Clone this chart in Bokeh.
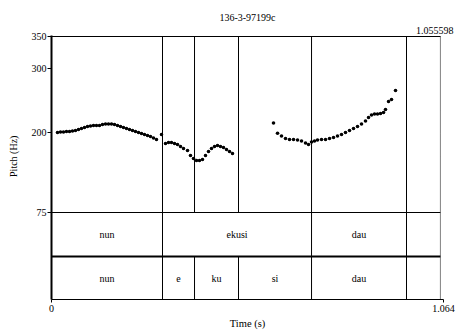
import math
from bokeh.plotting import figure
from bokeh.models import Range1d, FixedTicker, Title, ColumnDataSource
from bokeh.core.properties import value
from bokeh.embed import file_html
from bokeh.resources import INLINE

# ---------------- data ----------------
title_text = "136-3-97199c"
x_label = "Time (s)"
y_label = "Pitch (Hz)"
t_start = 0.0
t_end = 1.064
t_mark = 1.055598
mark_label = "1.055598"
x_ticks = [0.0, 1.064]
x_tick_labels = {0.0: "0", 1.064: "1.064"}
y_ticks = [75, 200, 300, 350]
f_min, f_max = 75, 350

pitch_t = [
    0.0163, 0.0244, 0.0326, 0.0407, 0.0489, 0.0570, 0.0651, 0.0733, 0.0814, 0.0896,
    0.0977, 0.1059, 0.1140, 0.1221, 0.1303, 0.1384, 0.1466, 0.1547, 0.1629, 0.1710,
    0.1792, 0.1873, 0.1954, 0.2036, 0.2117, 0.2199, 0.2280, 0.2362, 0.2443, 0.2524,
    0.2606, 0.2687, 0.2769, 0.2850, 0.2986,
    0.3094, 0.3176, 0.3257, 0.3339, 0.3420, 0.3502, 0.3583, 0.3692, 0.3773, 0.3854,
    0.3936, 0.4017, 0.4099, 0.4180, 0.4262, 0.4343, 0.4425, 0.4506, 0.4587, 0.4669,
    0.4750, 0.4832, 0.4913,
    0.6026, 0.6135, 0.6243, 0.6352, 0.6460, 0.6569, 0.6678, 0.6786, 0.6895, 0.6976,
    0.7058, 0.7139, 0.7220, 0.7329, 0.7438, 0.7546, 0.7655, 0.7763, 0.7872, 0.7980,
    0.8089, 0.8198, 0.8306, 0.8415, 0.8523, 0.8605, 0.8686, 0.8768, 0.8849, 0.8931,
    0.9012, 0.9066, 0.9148, 0.9229, 0.9338,
]
pitch_hz = [
    200.0, 200.8, 200.8, 201.6, 201.6, 202.3, 203.1, 204.7, 206.3, 207.8,
    209.4, 210.2, 210.9, 210.9, 210.9, 212.5, 213.3, 213.3, 213.3, 212.5,
    210.9, 209.4, 207.8, 206.3, 204.7, 203.1, 201.6, 200.0, 198.4, 196.9,
    195.3, 193.8, 191.4, 189.1, 196.9,
    182.8, 184.4, 184.4, 182.8, 181.3, 178.1, 175.0, 171.9, 164.1, 159.4,
    156.3, 156.3, 157.8, 164.1, 170.3, 175.0, 178.1, 179.7, 178.1, 176.6,
    173.4, 170.3, 167.2,
    214.8, 198.9, 194.5, 190.6, 189.1, 189.1, 188.3, 186.7, 183.6, 181.3,
    185.2, 186.7, 188.3, 189.1, 189.1, 190.6, 192.2, 194.5, 196.9, 200.0,
    203.1, 206.3, 209.4, 213.3, 218.0, 223.4, 227.3, 228.9, 228.9, 229.7,
    231.3, 235.9, 248.4, 251.6, 265.6,
]

word_bounds = [0.3013, 0.7058, 0.9636]
word_labels = ["nun", "ekusi", "dau", ""]
syll_bounds = [0.3013, 0.3882, 0.5076, 0.7058, 0.9636]
syll_labels = ["nun", "e", "ku", "si", "dau", ""]

# ---------------- layout ----------------
FONT = "Liberation Serif"
W, H = 456, 332
FRAME_L, FRAME_W = 51, 392
PITCH_H = 176
TIER_H = [44, 43]
PAD_TOP = 1
FRAME_TOP = 36 - PAD_TOP
hz_per_px = (f_max - f_min) / PITCH_H
tier1_bottom = f_min - TIER_H[0] * hz_per_px
y_start = tier1_bottom - TIER_H[1] * hz_per_px
y_end = f_max + PAD_TOP * hz_per_px
frame_h = PITCH_H + sum(TIER_H) + PAD_TOP
border_bottom = H - FRAME_TOP - frame_h
Y_LABEL_SHIFT = "\u00a0" * 9   # nudges the rotated axis title upward

p = figure(width=W, height=H, output_backend="svg", toolbar_location=None,
           x_range=Range1d(t_start, t_end), y_range=Range1d(y_start, y_end),
           min_border_left=FRAME_L, min_border_right=W - FRAME_L - FRAME_W,
           min_border_top=FRAME_TOP, min_border_bottom=border_bottom)
p.outline_line_color = None
p.grid.visible = False
p.background_fill_color = "white"
p.border_fill_color = "white"

# axes
yax = p.yaxis[0]
yax.ticker = FixedTicker(ticks=y_ticks)
yax.axis_line_width = 2
yax.axis_line_color = "black"
yax.major_tick_line_color = "black"
yax.major_tick_out = 4
yax.major_tick_in = 0
yax.minor_tick_line_color = None
yax.major_label_text_font = FONT
yax.major_label_text_font_size = "10px"
yax.major_label_text_color = "black"
yax.major_label_standoff = 1
yax.axis_label = Y_LABEL_SHIFT + y_label
yax.axis_label_text_font = FONT
yax.axis_label_text_font_size = "10px"
yax.axis_label_text_font_style = "normal"
yax.axis_label_text_color = "black"
yax.axis_label_standoff = 10

xax = p.xaxis[0]
xax.ticker = FixedTicker(ticks=x_ticks)
xax.major_label_overrides = x_tick_labels
xax.axis_line_color = "black"
xax.axis_line_width = 1
xax.major_tick_line_color = "black"
xax.major_tick_out = 3
xax.major_tick_in = 0
xax.minor_tick_line_color = None
xax.major_label_text_font = FONT
xax.major_label_text_font_size = "10px"
xax.major_label_text_color = "black"
xax.major_label_standoff = 2
xax.axis_label = x_label
xax.axis_label_text_font = FONT
xax.axis_label_text_font_size = "10.5px"
xax.axis_label_text_font_style = "normal"
xax.axis_label_text_color = "black"
xax.axis_label_standoff = 3

# titles (first added sits closest to the frame)
p.add_layout(Title(text=mark_label, align="right", offset=-10, standoff=3,
                   text_font=FONT, text_font_size="10px", text_font_style="normal",
                   text_color="black"), "above")
p.add_layout(Title(text=title_text, align="center", standoff=1,
                   text_font=FONT, text_font_size="10px", text_font_style="normal",
                   text_color="black"), "above")

# horizontal frame lines
p.segment(x0=[t_start, t_start], y0=[f_max, f_min], x1=[t_mark, t_mark], y1=[f_max, f_min],
          line_color="black", line_width=1)
p.segment(x0=[t_start], y0=[tier1_bottom], x1=[t_mark], y1=[tier1_bottom],
          line_color="black", line_width=2)
# right dotted border
p.segment(x0=[t_mark], y0=[y_start], x1=[t_mark], y1=[f_max],
          line_color="black", line_width=1, line_dash="1 1")

# vertical boundaries
n_s = len(syll_bounds)
p.segment(x0=syll_bounds, y0=[f_min] * n_s, x1=syll_bounds, y1=[f_max] * n_s,
          line_color="black", line_width=1)
n_w = len(word_bounds)
p.segment(x0=word_bounds, y0=[tier1_bottom] * n_w, x1=word_bounds, y1=[f_min] * n_w,
          line_color="black", line_width=1)
p.segment(x0=syll_bounds, y0=[y_start] * n_s, x1=syll_bounds, y1=[tier1_bottom] * n_s,
          line_color="black", line_width=1)

# tier labels
def mids(bounds):
    edges = [t_start] + list(bounds) + [t_mark]
    return [(edges[i] + edges[i + 1]) / 2 for i in range(len(edges) - 1)]

wsrc = ColumnDataSource(dict(x=mids(word_bounds), y=[(f_min + tier1_bottom) / 2] * len(word_labels),
                             t=word_labels))
ssrc = ColumnDataSource(dict(x=mids(syll_bounds), y=[(tier1_bottom + y_start) / 2] * len(syll_labels),
                             t=syll_labels))
for src in (wsrc, ssrc):
    p.text(x="x", y="y", text="t", source=src, text_font=value(FONT), text_font_size="10px",
           text_align="center", text_baseline="middle", text_color="black")

# pitch points
p.scatter(x=pitch_t, y=pitch_hz, size=3.6, fill_color="black", line_color=None)

open("out.html", "w").write(file_html(p, INLINE))
